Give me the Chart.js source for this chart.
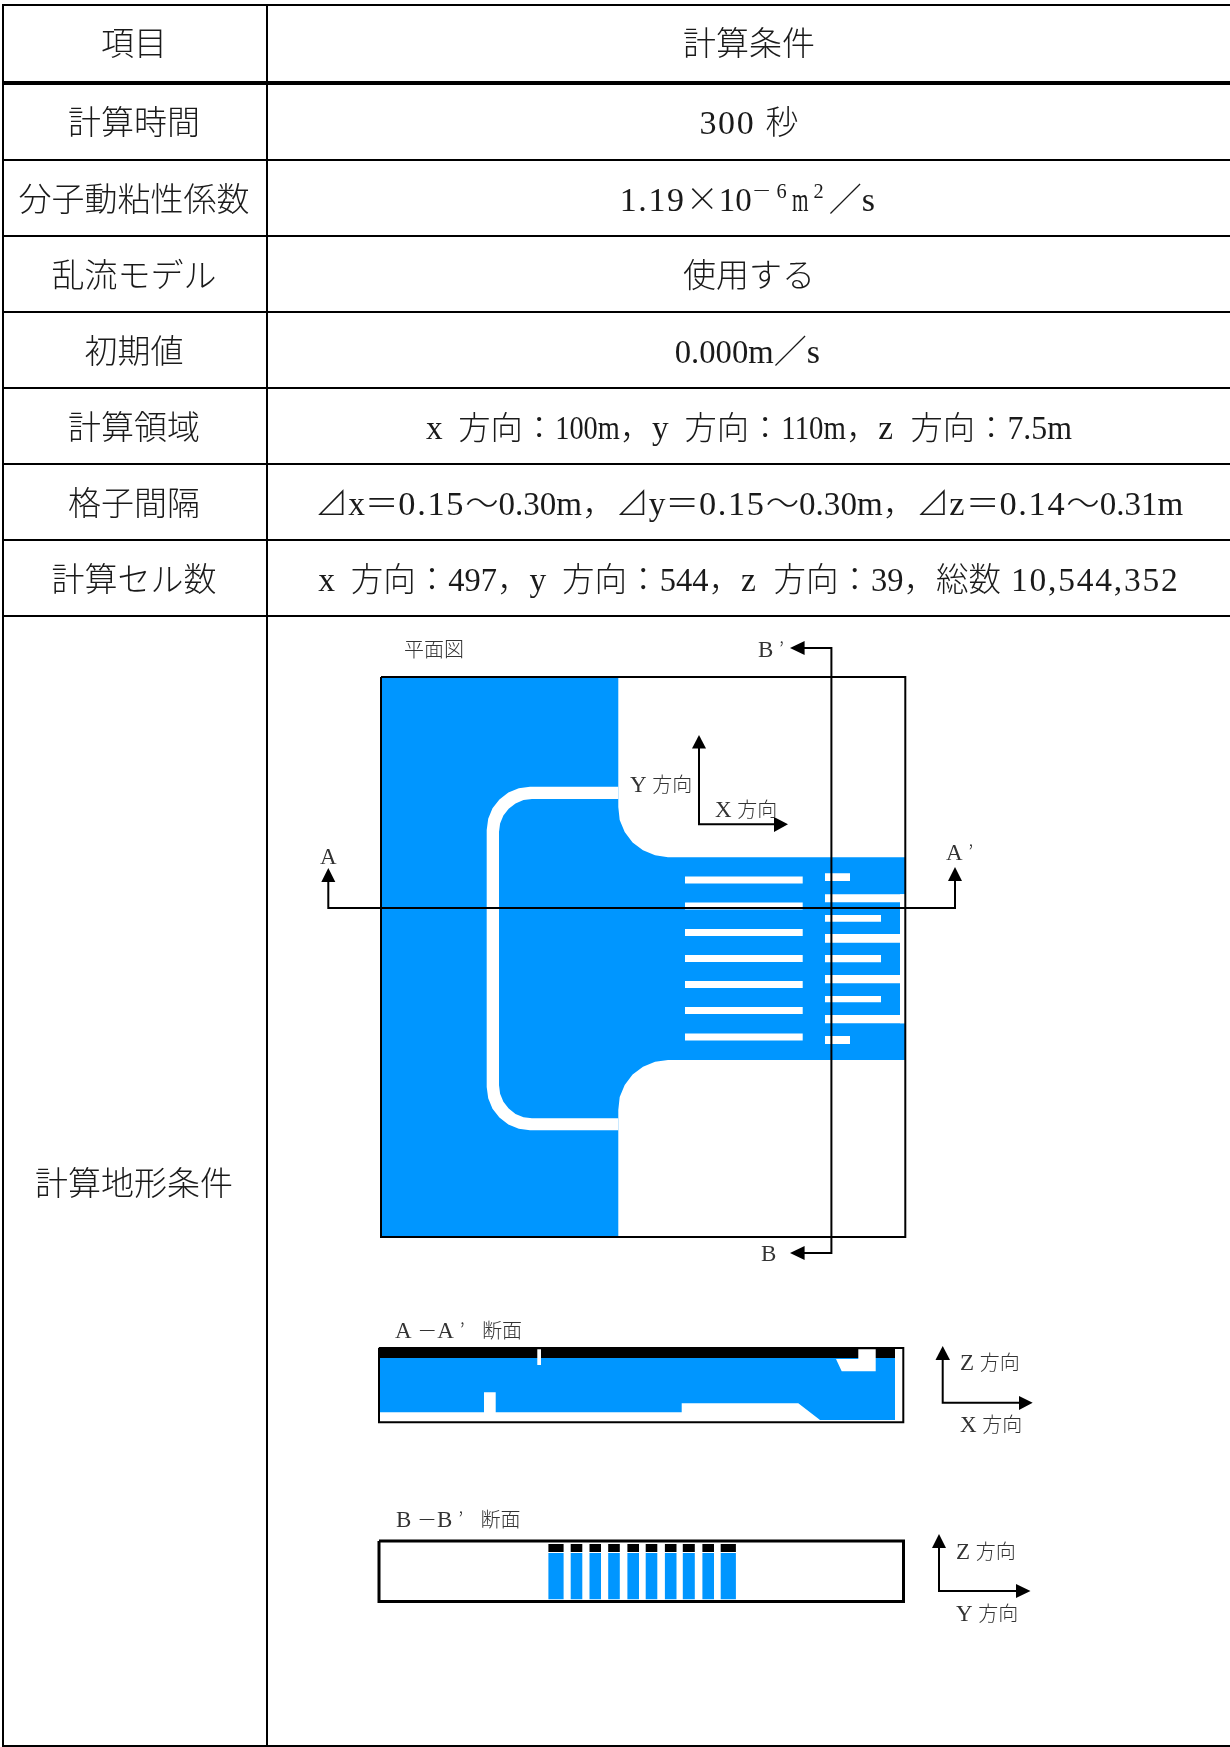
<!DOCTYPE html>
<html lang="ja"><head><meta charset="utf-8">
<style>html,body{margin:0;padding:0;background:#fff}canvas{display:block}</style>
<script src="https://cdn.jsdelivr.net/npm/chart.js@4"></script>
</head><body><canvas id="c" width="1230" height="1747"></canvas>
<script>
// ---- table ----
const rowItems=["項目","計算時間","分子動粘性係数","乱流モデル","初期値","計算領域","格子間隔","計算セル数","計算地形条件"];
const rowConditions=["計算条件","300 秒","1.19×10{－ 6 }m{ 2 }／s","使用する","0.000m／s",
 "x 方向：100m，y 方向：110m，z 方向：7.5m",
 "⊿x＝0.15～0.30m，⊿y＝0.15～0.30m，⊿z＝0.14～0.31m",
 "x 方向：497，y 方向：544，z 方向：39，総数 10,544,352",""];
const rowConditionSizes=[33,33,33,33,33,32.3,33.4,32.5,33];
const rowRules=[5,83,160,236,312,388,464,540,616,1746];
const rowRuleWidths=[2,4,2,2,2,2,2,2,2,2];
const rowTextShift=[-1,1,1,1,1,1,1,1,2];
const colRules=[3,267];
// ---- plan view ----
const WATER="#0096ff";
const planWater=[[381,677],[618.3,677],[618.3,807],[619.7,819.9],[624.7,832],[632.6,842.4],[643,850.3],[655.1,855.3],[668,857.3],[905,857.3],[905,1060],[668,1060],[655.1,1061.7],[643,1066.7],[632.6,1074.6],[624.7,1085],[619.7,1097.1],[618.3,1110],[618.3,1237],[381,1237],[381,677]];
const planBand=[[618.3,786.7],[530,786.7],[518.8,788.2],[508.35,792.5],[499.4,799.4],[492.5,808.35],[488.2,818.8],[486.7,830],[486.7,1087],[488.2,1098.2],[492.5,1108.65],[499.4,1117.6],[508.35,1124.5],[518.8,1128.8],[530,1130.3],[618.3,1130.3],[618.3,1118.3],[532,1118.3],[523.5,1117.2],[515.5,1113.9],[508.7,1108.6],[503.4,1101.8],[500.1,1093.8],[499,1085.3],[499,832],[500.1,823.5],[503.4,815.5],[508.7,808.7],[515.5,803.4],[523.5,800.1],[532,799],[618.3,799],[618.3,786.7]];
// [x0,x1,y0,y1]
const planStripes=[[685,802.7,876.5,883.5],[685,802.7,902.5,909.5],[685,802.7,929,936],[685,802.7,955,962],[685,802.7,981,988],[685,802.7,1007,1014],[685,802.7,1033.5,1040.5],
 [825,850,873.3,881],[825,905,894.3,902.3],[825,881,915,921.7],[825,900,934,942.7],[825,881,955,962.3],[825,900,975,983.3],[825,881,996,1002.3],[825,905,1015,1023.3],[825,850,1036,1044],[900,905,894.3,1023.3]];
const planFrame=[[381,677],[905.3,677],[905.3,1237],[381,1237],[381,677]];
const lineA=[[328.3,880],[328.3,908],[955,908],[955,880]];
const lineB=[[804,648],[831.4,648],[831.4,1253],[804,1253]];
const planAxes=[[699,748],[699,824.3],[775,824.3]];
// ---- section A-A' ----
const sectAWater=[[380,1358],[895,1358],[895,1420],[820,1420],[798.3,1403.3],[681.7,1403.3],[681.7,1412.3],[380,1412.3],[380,1358]];
const sectARoof=[[378.3,1347.7],[895,1347.7],[895,1358],[378.3,1358],[378.3,1347.7]];
const sectANotch=[[537.3,1349.3],[541,1349.3],[541,1365],[537.3,1365],[537.3,1349.3]];
const sectAPillar=[[484,1392.3],[495.7,1392.3],[495.7,1413],[484,1413],[484,1392.3]];
const sectAGate=[[858.3,1349.3],[875.7,1349.3],[875.7,1371.3],[841.7,1371.3],[836,1359],[858.3,1359],[858.3,1349.3]];
const sectAFrame=[[379,1348],[903.3,1348],[903.3,1422.3],[379,1422.3],[379,1348]];
const sectAAxes=[[942.7,1358],[942.7,1402.7],[1021,1402.7]];
// ---- section B-B' ----
const sectBColumns=[[548.4,563.6],[570.7,582.3],[589.5,601],[608.2,619.8],[627.4,639],[645.7,657.3],[664.9,676.5],[682.8,694.8],[702.4,714],[720.7,735.9]];
const sectBBlack=[1544,1552], sectBBlue=[1553,1599.3];
const sectBFrame=[[379,1541],[903.5,1541],[903.5,1601.5],[379,1601.5],[379,1541]];
const sectBAxes=[[939,1546],[939,1591],[1017,1591]];
// ---- arrow heads ----
const heads=[
 [[328.3,868],[335.3,882],[321.3,882],[328.3,868]],[[955,867],[962,881],[948,881],[955,867]],
 [[790,648],[804.6,641],[804.6,655],[790,648]],[[790,1253],[804.6,1246],[804.6,1260],[790,1253]],
 [[699,735],[706,748.5],[692,748.5],[699,735]],[[788,824.3],[774,817],[774,832],[788,824.3]],
 [[942.7,1346],[950,1360],[935.5,1360],[942.7,1346]],[[1032.7,1402.7],[1019,1396],[1019,1410],[1032.7,1402.7]],
 [[939,1534],[946,1548],[932,1548],[939,1534]],[[1030.5,1591],[1016,1584],[1016,1598],[1030.5,1591]]];
// ---- diagram labels [text,x,y] ----
const diagramLabels=[["平面図",404,650],["B ’",758,650],["A",320,857],["A ’",946,853],["Y 方向",630,785],["X 方向",715,810],["B",761,1254],
 ["A －A ’   断面",395,1331],["Z 方向",960,1363],["X 方向",960,1425],["B －B ’   断面",396,1520],["Z 方向",956,1552],["Y 方向",956,1614]];

const pts=a=>a.map(p=>({x:p[0],y:p[1]}));
const box=(x0,x1,y0,y1)=>[[x0,y0],[x1,y0],[x1,y1],[x0,y1],[x0,y0]];
const shape=(a,c)=>({data:pts(a),fill:'shape',backgroundColor:c,borderWidth:0,borderColor:c});
const stroke=(a,w)=>({data:pts(a),fill:false,borderColor:'#000',borderWidth:w});
const ds=[];
ds.push(shape(planWater,WATER),shape(planBand,'#fff'));
planStripes.forEach(r=>ds.push(shape(box(...r),'#fff')));
ds.push(stroke(planFrame,2),stroke(lineA,2),stroke(lineB,2),stroke(planAxes,2));
ds.push(shape(sectAWater,WATER),shape(sectARoof,'#000'),shape(sectANotch,'#fff'),shape(sectAPillar,'#fff'),shape(sectAGate,'#fff'),stroke(sectAFrame,2),stroke(sectAAxes,2));
sectBColumns.forEach(c=>{ds.push(shape(box(c[0],c[1],...sectBBlack),'#000'),shape(box(c[0],c[1],...sectBBlue),WATER));});
ds.push(stroke(sectBFrame,3),stroke(sectBAxes,2));
heads.forEach(h=>ds.push(shape(h,'#000')));
rowRules.forEach((y,i)=>ds.push(stroke([[2,y],[1230,y]],rowRuleWidths[i])));
colRules.forEach(x=>ds.push(stroke([[x,4],[x,1747]],2)));
ds.forEach((d,i)=>{d.order=ds.length-i;d.pointRadius=0;d.tension=0;});

const CJK='"Noto Sans CJK JP"';
function splitRuns(s){const out=[];s.split(/(\{[^}]*\})/).forEach(part=>{if(!part)return;
  const sup=part[0]==='{';const t=sup?part.slice(1,-1):part;
  (t.match(/[\x20-\x7e]+|[^\x20-\x7e]+/g)||[]).forEach(r=>out.push({t:r,ascii:/^[\x20-\x7e]/.test(r),sup}));});return out;}
// fit=true: every ASCII character takes one half-width slot, as in the reference's full/half-width font
function drawRuns(ctx,s,x,y,size,latinScale,fit,align,color){
  const runs=splitRuns(s);let w=0;ctx.letterSpacing='0px';
  runs.forEach(r=>{const sz=(r.sup?size*0.6:size)*(r.ascii?latinScale:1);
    r.font=`300 ${sz}px ${r.ascii?'"Liberation Serif"':CJK}`;ctx.font=r.font;
    r.nat=ctx.measureText(r.t).width;
    r.w=(fit&&r.ascii&&!r.sup)?r.t.length*size/2:r.nat;w+=r.w;});
  let px=align==='center'?x-w/2:x;
  ctx.fillStyle=color;ctx.textAlign='left';ctx.textBaseline='alphabetic';
  const base=y+size*0.36;
  runs.forEach(r=>{ctx.font=r.font;ctx.save();ctx.translate(px,r.sup?base-size*0.38:base);
    if(r.w<r.nat){ctx.scale(r.w/r.nat,1);ctx.letterSpacing='0px';}
    else ctx.letterSpacing=((r.w-r.nat)/r.t.length)+'px';
    ctx.fillText(r.t,0,0);ctx.restore();px+=r.w;});
  ctx.letterSpacing='0px';
}
const textPlugin={id:'texts',afterDraw(chart){
  const ctx=chart.ctx,sx=chart.scales.x,sy=chart.scales.y;ctx.save();
  rowItems.forEach((t,i)=>{const yc=(rowRules[i]+rowRules[i+1])/2+rowTextShift[i];
    drawRuns(ctx,t,sx.getPixelForValue(134),sy.getPixelForValue(yc),33,1.03,true,'center','#1a1a1a');
    if(rowConditions[i])drawRuns(ctx,rowConditions[i],sx.getPixelForValue(749),sy.getPixelForValue(yc),rowConditionSizes[i],1.03,true,'center','#1a1a1a');});
  diagramLabels.forEach(l=>drawRuns(ctx,l[0],sx.getPixelForValue(l[1]),sy.getPixelForValue(l[2]),20,1.15,false,'left','#333'));
  ctx.restore();}};
new Chart(document.getElementById('c'),{type:'line',data:{datasets:ds},plugins:[textPlugin],options:{
  responsive:false,animation:false,events:[],layout:{padding:0},
  plugins:{legend:{display:false},tooltip:{enabled:false},title:{display:false}},
  scales:{x:{type:'linear',min:0,max:1230,display:false},y:{type:'linear',min:0,max:1747,reverse:true,display:false}}}});
</script></body></html>
